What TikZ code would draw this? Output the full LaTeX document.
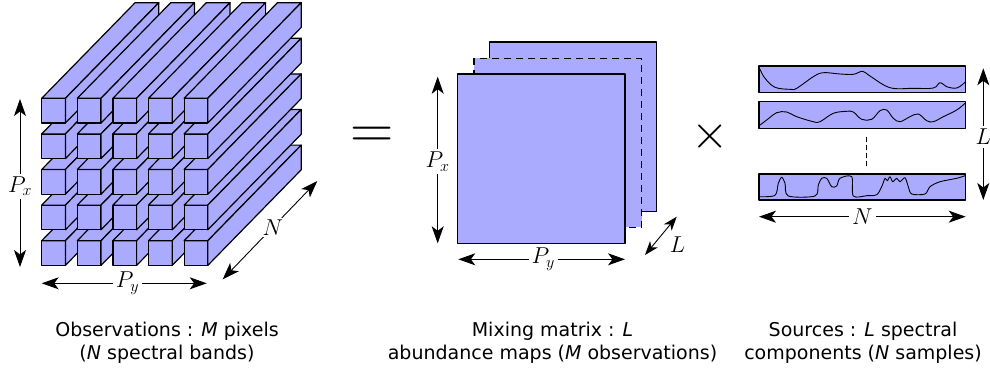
\RequirePackage{fix-cm}
\documentclass[tikz,border=0pt]{standalone}
\usepackage{fontspec}
\setmainfont{DejaVu Sans}
\usetikzlibrary{arrows.meta}

\begin{document}
\begin{tikzpicture}[x=1pt, y=-1pt,
    facestyle/.style={fill=fillColour, draw=borderColour, line width=1.2pt, line join=round},
    dimarrow/.style={{Stealth[length=17pt,width=12pt,inset=4.5pt]}-{Stealth[length=17pt,width=12pt,inset=4.5pt]}, line width=0.9pt},
    smallarrow/.style={{Stealth[length=14pt,width=10pt,inset=4pt]}-{Stealth[length=14pt,width=10pt,inset=4pt]}, line width=0.9pt},
    dimlabel/.style={fill=white, inner sep=3pt, font=\fontsize{23}{27}\selectfont},
    spectrum/.style={line width=0.9pt, line join=round},
    captiontext/.style={align=center, anchor=north, inner sep=0pt, font=\fontsize{19}{22.5}\selectfont}]
    % Define colours
    \definecolor{borderColour}{HTML}{000000}
    \definecolor{fillColour}{HTML}{AAAAFF}

    % Define cube geometry
    \def\cubeX{41.7}
    \def\cubeY{98.3}
    \def\cubePitch{35.6}
    \def\barW{23.7}
    \def\barH{24.7}
    \def\depthX{93.4}
    \def\depthY{-95.6}

    \useasboundingbox (0,0) rectangle (990,370);

    % Draw the bars of the cube, lower rows and left columns first
    \foreach \r in {4,3,2,1,0}{
        \foreach \c in {0,...,4}{
            \begin{scope}[shift={({\cubeX+\c*\cubePitch},{\cubeY+\r*\cubePitch})}]
                \draw[facestyle] (0,0) rectangle (\barW,\barH);
                \draw[facestyle] (0,0) -- (\depthX,\depthY) -- ++(\barW,0) -- (\barW,0) -- cycle;
                \draw[facestyle] (\barW,0) -- ++(\depthX,\depthY) -- ++(0,\barH) -- (\barW,\barH) -- cycle;
            \end{scope}
        }
    }

    % Cube dimensions
    \coordinate (cubePxTop) at (20,99);
    \coordinate (cubePxBot) at (20,267);
    \coordinate (cubePyLeft) at (41.7,283.3);
    \coordinate (cubePyRight) at (206.7,283.3);
    \coordinate (cubeNFront) at (222.7,279.3);
    \coordinate (cubeNBack) at (317.3,181);
    \draw[dimarrow] (cubePxTop) -- node[dimlabel, pos=0.52] (cubePx) {$P_x$} (cubePxBot);
    \draw[dimarrow] (cubePyLeft) -- node[dimlabel, pos=0.52] (cubePy) {$P_y$} (cubePyRight);
    \draw[dimarrow] (cubeNFront) -- node[dimlabel, pos=0.53, inner sep=1.5pt] (cubeN) {$N$} (cubeNBack);

    % Equals sign
    \node[inner sep=0pt, font=\fontsize{60}{60}\selectfont] (eqsign) at (372.5,138) {$=$};

    % Abundance maps
    \draw[facestyle] (489.7,42) rectangle (656.7,211.7);
    \fill[fillColour] (474,58.3) rectangle (641.7,227.3);
    \draw[borderColour, line width=1.2pt, dash pattern=on 7pt off 5pt] (474,58.3) rectangle (641.7,227.3);
    \draw[facestyle] (457.3,74) rectangle (625,243.3);

    % Map dimensions
    \coordinate (mapPxTop) at (437.7,76.7);
    \coordinate (mapPxBot) at (437.7,243.3);
    \coordinate (mapPyLeft) at (458.3,259.3);
    \coordinate (mapPyRight) at (625,259.3);
    \coordinate (mapLFront) at (645,255);
    \coordinate (mapLBack) at (676.7,216.7);
    \draw[dimarrow] (mapPxTop) -- node[dimlabel, pos=0.51] (mapPx) {$P_x$} (mapPxBot);
    \draw[dimarrow] (mapPyLeft) -- node[dimlabel, pos=0.51] (mapPy) {$P_y$} (mapPyRight);
    \draw[smallarrow] (mapLFront) -- (mapLBack);
    \node[inner sep=0pt, font=\fontsize{23}{27}\selectfont] (mapL) at (677.5,245) {$L$};

    % Times sign
    \node[inner sep=0pt, font=\fontsize{48}{48}\selectfont] (timessign) at (710,136) {$\times$};

    % Source spectra
    \fill[fillColour] (759,66) rectangle (965.7,92.7);
    \draw[spectrum] plot[smooth, tension=0.6] coordinates {(760,69.3) (765,78.3) (775,87.3) (790,89.3) (796.7,88.3) (813.3,76.7) (823.3,72.7) (840,74) (853.3,74.3) (862.7,71.3) (870,76) (890,87.7) (913.3,88.3) (933.3,88) (940,82.7) (946.7,86.7) (956.7,88) (965,82.3)};
    \draw[facestyle, fill=none] (759,66) rectangle (965.7,92.7);

    \fill[fillColour] (759,101.7) rectangle (965.7,128.3);
    \draw[spectrum] plot[smooth, tension=0.6] coordinates {(760,125) (766.7,120) (776.7,112.7) (786.7,112) (796.7,116.7) (813.3,121.7) (820,121.7) (833.3,113.3) (846.7,111.3) (853.3,112) (861.7,119.3) (871.7,119.3) (880,110.7) (886.7,110) (893.3,118.3) (900,121.7) (910,116.7) (918.3,114) (926.7,120.7) (933.3,121.7) (943.3,116.7) (956.7,110) (965,103.3)};
    \draw[facestyle, fill=none] (759,101.7) rectangle (965.7,128.3);

    \fill[fillColour] (759,174) rectangle (965.7,200);
    \draw[spectrum] plot[smooth, tension=0.5] coordinates {(760,196.7) (775,195.3) (778.3,183.3) (781.7,177.3) (785,183.3) (788.3,196) (815,196) (818.3,185) (821.7,178.3) (826.7,178.3) (831.7,186.7) (836.7,186) (840,178.3) (851.7,176.7) (853.3,196) (866.7,195.7) (876.7,194.7) (881.7,186.7) (885,178.3) (887.3,180.7) (890,176.7) (892.7,181.7) (896.7,178.3) (900,181.7) (905,177.7) (908.3,186.7) (911.7,194) (925,194) (930,186.7) (940,181.7) (956.7,178.3) (965,175.7)};
    \draw[facestyle, fill=none] (759,174) rectangle (965.7,200);

    % Dots between spectra
    \coordinate (dotsTop) at (866,137.3);
    \coordinate (dotsBot) at (866,166.7);
    \draw[line width=0.8pt, dash pattern=on 5pt off 3pt] (dotsTop) -- (dotsBot);

    % Source dimensions
    \coordinate (srcLTop) at (983.3,68.3);
    \coordinate (srcLBot) at (983.3,200);
    \coordinate (srcNLeft) at (759,216.7);
    \coordinate (srcNRight) at (965.7,216.7);
    \draw[dimarrow] (srcLTop) -- node[dimlabel, pos=0.52] (srcL) {$L$} (srcLBot);
    \draw[dimarrow] (srcNLeft) -- node[dimlabel, pos=0.5] (srcN) {$N$} (srcNRight);

    % Captions
    \node[captiontext] (obsCaption) at (167,322) {Observations : \textit{M} pixels\\(\textit{N} spectral bands)};
    \node[captiontext] (mixCaption) at (552.5,322) {Mixing matrix : \textit{L}\\abundance maps (\textit{M} observations)};
    \node[captiontext] (srcCaption) at (863,322) {Sources : \textit{L} spectral\\components (\textit{N} samples)};
\end{tikzpicture}
\end{document}
